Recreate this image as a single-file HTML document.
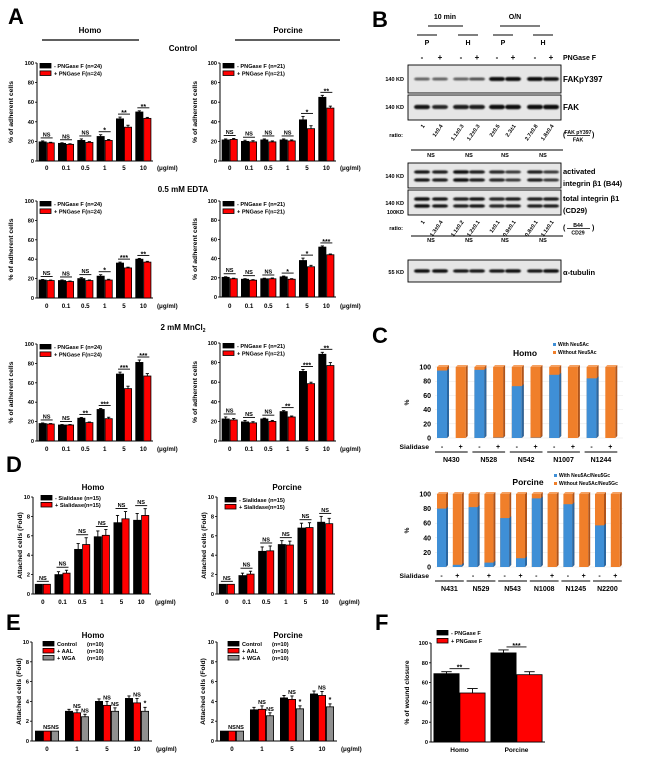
<!DOCTYPE html>
<html><head><meta charset="utf-8"><style>
html,body{margin:0;padding:0;background:#fff;}
svg{display:block;font-family:"Liberation Sans",Arial,sans-serif;font-weight:bold;}
</style></head><body>
<svg id="fig" width="650" height="758" viewBox="0 0 650 758" xmlns="http://www.w3.org/2000/svg">
<defs><filter id="blur" x="-20%" y="-100%" width="140%" height="300%"><feGaussianBlur stdDeviation="0.9"/></filter></defs>
<text x="183" y="330" font-size="8" text-anchor="middle">2 mM MnCl<tspan font-size="5" dy="2">2</tspan></text>
</svg>
<script>
// ===== Panel A data =====
const doseCats = ["0","0.1","0.5","1","5","10"];
const aCtrlHomoMinus = [19.5,18,21,25,43,50];
const aCtrlHomoPlus  = [18.5,17,19,21,34.5,43.5];
const aCtrlHomoErrM = [1,0.6,1.5,1.8,1.8,1.2];
const aCtrlHomoErrP = [0.6,0.6,0.8,1,2,1];
const aCtrlHomoSig = ["NS","NS","NS","*","**","**"];
const aCtrlPorMinus = [21.5,20,21.5,21.5,42,65];
const aCtrlPorPlus  = [22,19.5,19.5,20.5,33,54];
const aCtrlPorErrM = [1,1.2,1,1,3.5,2];
const aCtrlPorErrP = [1,1.2,1,1,3,2];
const aCtrlPorSig = ["NS","NS","NS","NS","*","**"];
const aEdtaHomoMinus = [18.5,18,20,22.5,36,40];
const aEdtaHomoPlus  = [18,17,18,18.5,31,37];
const aEdtaHomoErrM = [0.6,0.6,1,1.5,1,0.8];
const aEdtaHomoErrP = [0.5,0.5,0.6,0.8,0.8,0.8];
const aEdtaHomoSig = ["NS","NS","NS","*","***","**"];
const aEdtaPorMinus = [20.5,18.5,19,21,38,52];
const aEdtaPorPlus  = [19,17.5,19,18.5,31.5,44];
const aEdtaPorErrM = [0.6,0.6,0.6,0.8,2.5,1.2];
const aEdtaPorErrP = [0.6,0.6,0.8,0.6,1.5,0.8];
const aEdtaPorSig = ["NS","NS","NS","*","*","***"];
const aMnHomoMinus = [18,16.5,23.5,32.5,69,81];
const aMnHomoPlus  = [17.5,16.5,19,23,54,67];
const aMnHomoErrM = [0.6,0.5,0.8,1,2,2.5];
const aMnHomoErrP = [0.5,0.5,0.6,1.5,2.5,2.5];
const aMnHomoSig = ["NS","NS","**","***","***","***"];
const aMnPorMinus = [22.5,19.5,22.5,30,71,88.5];
const aMnPorPlus  = [21.5,18.5,20,24.5,58.5,77];
const aMnPorErrM = [2,1.5,0.8,1,2,2];
const aMnPorErrP = [1.5,1.2,1,1,1.5,3];
const aMnPorSig = ["NS","NS","NS","**","***","**"];
const aTicks = [0,20,40,60,80,100];
// ===== Panel D data =====
const dTicks = [0,2,4,6,8,10];
const dHomoMinus = [1,2,4.6,5.9,7.35,7.6];
const dHomoPlus  = [1,2.15,5.1,6.05,7.75,8.1];
const dHomoErrM = [0,0.3,0.6,0.6,0.75,0.7];
const dHomoErrP = [0,0.3,0.7,0.6,0.75,0.7];
const dPorMinus = [1,1.9,4.4,5.1,6.8,7.4];
const dPorPlus  = [1,2.05,4.45,5.05,6.85,7.25];
const dPorErrM = [0,0.25,0.45,0.4,0.5,0.6];
const dPorErrP = [0,0.3,0.5,0.4,0.5,0.55];
const dSig = ["NS","NS","NS","NS","NS","NS"];
// ===== Panel E data =====
const eCats = ["0","1","5","10"];
const eHomoCtrl = [1,3,4,4.3];
const eHomoAal  = [1,2.85,3.6,3.85];
const eHomoWga  = [1,2.45,3,3];
const eHomoErrC = [0,0.2,0.25,0.25];
const eHomoErrA = [0,0.3,0.4,0.45];
const eHomoErrW = [0,0.25,0.35,0.4];
const eHomoSigA = ["NS","NS","NS","NS"];
const eHomoSigW = ["NS","NS","NS","*"];
const ePorCtrl = [1,3.15,4.35,4.75];
const ePorAal  = [1,3.2,4.2,4.6];
const ePorWga  = [1,2.55,3.25,3.45];
const ePorErrC = [0,0.25,0.25,0.3];
const ePorErrA = [0,0.35,0.35,0.4];
const ePorErrW = [0,0.3,0.3,0.3];
const ePorSigA = ["NS","NS","NS","NS"];
const ePorSigW = ["NS","NS","*","*"];
// ===== Panel F data =====
const fCats = ["Homo","Porcine"];
const fTicks = [0,20,40,60,80,100];
const fMinus = [69,90];
const fPlus  = [49.5,68];
const fErrM = [2,3];
const fErrP = [4.5,3];
const fSig = ["**","***"];
// ===== Panel C data =====
const cHomoCats = ["N430","N528","N542","N1007","N1244"];
const cHomoWith = [95,0,96,0.5,73,0.5,89,0,84,0];
const cPorCats = ["N431","N529","N543","N1008","N1245","N2200"];
const cPorWith = [80,3,82,6,67,12,94,0,86,0,57,0];
const cTicks = [0,20,40,60,80,100];
// ===== Panel B data =====
const bLanes = ["-","+","-","+","-","+","-","+"];
const bRatio1 = ["1","1±0.4","1.1±0.3","1.2±0.3","2±0.5","2.3±1","2.7±0.8","1.8±0.4"];
const bRatio2 = ["1","1.3±0.4","1.1±0.2","1.2±0.1","1±0.1","0.9±0.1","0.8±0.1","1.1±0.1"];
const bPFak = [0.45,0.45,0.45,0.55,1,1,1,0.9];
const bFak = [0.9,0.8,0.85,0.85,0.95,0.95,1,1];
const bB44 = [0.9,0.85,1,0.85,0.8,0.7,0.85,0.7];
const bCd29 = [1,0.9,0.85,0.9,0.8,0.85,0.85,0.85];
const bTub = [0.95,0.95,0.9,0.9,0.9,0.95,0.9,1];

const NS='http://www.w3.org/2000/svg';
const svg=document.getElementById('fig');
function mk(tag, attrs, parent, text){
  const e=document.createElementNS(NS,tag);
  for(const k in attrs) e.setAttribute(k,attrs[k]);
  if(text!=null) e.textContent=text;
  (parent||svg).appendChild(e);
  return e;
}
function txt(x,y,s,size,anchor,name,parent,extra){
  const t=mk('text',Object.assign({x:x,y:y,'font-size':size,'text-anchor':anchor||'middle'},extra||{}),parent,s);
  
  
  return t;
}
function line(x1,y1,x2,y2,w,name,parent,col){
  const l=mk('line',{x1:x1,y1:y1,x2:x2,y2:y2,stroke:col||'#000','stroke-width':w},parent);
  
  
  return l;
}

function barChart(p){
  const g=mk('g',{});
  
  
  const n=p.cats.length, ns=p.series.length, gw=(p.x1-p.x0)/n;
  const y=v=>p.yB - v/p.max*(p.yB-p.yT);
  const xc=i=>p.x0+gw*(i+0.5);
  p.ticks.forEach(t=>{
    line(p.x0-2,y(t),p.x0,y(t),0.8,'y-tick',g);
    txt(p.x0-3,y(t)+2,String(t),5.6,'end','y-tick-label',g);
  });
  line(p.x0,p.yT,p.x0,p.yB+0.5,1,'y-axis',g);
  line(p.x0,p.yB,p.x1,p.yB,1,'x-axis',g);
  p.cats.forEach((c,i)=>txt(xc(i),p.labelY,c,p.catSize||6.2,'middle','x-tick-label',g));
  if(p.unit) txt(p.x1+4,p.labelY,'(μg/ml)',6.2,'start','unit-label',g);
  txt(0,0,p.ytitle,p.ytSize||6.8,'middle','y-axis-title',g,{transform:'translate('+p.ytX+','+((p.yT+p.yB)/2)+') rotate(-90)'});
  p.cats.forEach((c,i)=>{
    let top=p.yB;
    p.series.forEach((s,k)=>{
      const bx=xc(i)-ns*p.bw/2+k*p.bw;
      const v=s.vals[i], e=s.errs[i];
      if(e>0){
        line(bx+p.bw/2,y(v),bx+p.bw/2,y(v+e),0.9,'error-bar',g);
        line(bx+p.bw/2-p.bw*0.2,y(v+e),bx+p.bw/2+p.bw*0.2,y(v+e),0.9,'error-cap',g);
      }
      const r=mk('rect',{x:bx+0.4,y:y(v),width:p.bw-0.8,height:p.yB-y(v),fill:s.color,stroke:'#000','stroke-width':0.8},g);
      
      
      top=Math.min(top,y(v+e));
      if(s.sig){ txt(bx+p.bw/2,y(v+e)-2,s.sig[i],s.sig[i]==='*'?7:5.6,'middle','significance-label',g); }
    });
    if(p.sig){
      const ly=top-3, hw=p.sigW||7;
      line(xc(i)-hw,ly,xc(i)+hw,ly,0.9,'significance-line',g);
      const s=p.sig[i];
      txt(xc(i),ly-1.5,s,s==='NS'?5.6:7,'middle','significance-label',g,s==='NS'?{}:{dy:'2.5'});
    }
  });
  if(p.legend){
    p.legend.forEach((L,k)=>{
      const ly=p.legY+k*p.legDy;
      const r=mk('rect',{x:p.legX,y:ly-2.6,width:11,height:4.6,fill:L.color,stroke:'#000','stroke-width':0.8},g);
      
      
      txt(p.legX+14,ly+1.8,L.label,5.6,'start','legend-entry',g);
      if(L.n) txt(p.legX+p.nOff,ly+1.8,L.n,5.6,'start','legend-n',g);
    });
  }
}

// ---------- Panel A ----------
txt(8,24,'A',22,'start','panel-a-label');
txt(90,33,'Homo',8,'middle','homo-header');
line(42,40,139,40,1.2,'homo-header-line');
txt(288,33,'Porcine',8,'middle','porcine-header');
line(235,40,340,40,1.2,'porcine-header-line');
txt(183,51,'Control',8,'middle','control-title');
txt(183,192,'0.5 mM EDTA',8,'middle','edta-title');
const blk='#000', red='#f00', gray='#909090';
const homoLeg=[{label:'- PNGase F (n=24)',color:blk},{label:'+ PNGase F(n=24)',color:red}];
const porLeg=[{label:'- PNGase F (n=21)',color:blk},{label:'+ PNGase F(n=21)',color:red}];
function aChart(name,x0,yT,yB,labelY,m,pl,em,ep,sig,leg,unit,ytX){
  barChart({name:name,x0:x0,x1:x0+116,yT:yT,yB:yB,max:100,ticks:aTicks,cats:doseCats,bw:8,labelY:labelY,unit:unit,
    ytitle:'% of adherent cells',ytX:ytX,sig:sig,sigW:6,
    series:[{vals:m,errs:em,color:blk},{vals:pl,errs:ep,color:red}],legend:leg,legX:x0+3,legY:66+(yT-63),legDy:7.5});
}
aChart('chart-a-control-homo',37,63,161,170,aCtrlHomoMinus,aCtrlHomoPlus,aCtrlHomoErrM,aCtrlHomoErrP,aCtrlHomoSig,homoLeg,true,13);
aChart('chart-a-control-porcine',220,63,161,170,aCtrlPorMinus,aCtrlPorPlus,aCtrlPorErrM,aCtrlPorErrP,aCtrlPorSig,porLeg,true,197);
aChart('chart-a-edta-homo',37,201,298,308,aEdtaHomoMinus,aEdtaHomoPlus,aEdtaHomoErrM,aEdtaHomoErrP,aEdtaHomoSig,homoLeg,true,13);
aChart('chart-a-edta-porcine',220,201,297,308,aEdtaPorMinus,aEdtaPorPlus,aEdtaPorErrM,aEdtaPorErrP,aEdtaPorSig,porLeg,true,197);
aChart('chart-a-mncl2-homo',37,344,441,451,aMnHomoMinus,aMnHomoPlus,aMnHomoErrM,aMnHomoErrP,aMnHomoSig,homoLeg,true,13);
aChart('chart-a-mncl2-porcine',220,343,441,451,aMnPorMinus,aMnPorPlus,aMnPorErrM,aMnPorErrP,aMnPorSig,porLeg,true,197);

// ---------- Panel D ----------
txt(6,472,'D',22,'start','panel-d-label');
txt(93,490,'Homo',8,'middle','d-homo-title');
txt(287,490,'Porcine',8,'middle','d-porcine-title');
function dChart(name,x0,m,pl,em,ep,leg,ytX){
  barChart({name:name,x0:x0,x1:x0+118,yT:497,yB:594,max:10,ticks:dTicks,cats:doseCats,bw:8,labelY:604,unit:true,
    ytitle:'Attached cells (Fold)',ytX:ytX,sig:dSig,sigW:6,
    series:[{vals:m,errs:em,color:blk},{vals:pl,errs:ep,color:red}],legend:leg,legX:x0+8,legY:x0<100?498:500,legDy:7});
}
dChart('chart-d-homo',33,dHomoMinus,dHomoPlus,dHomoErrM,dHomoErrP,[{label:'- Sialidase (n=15)',color:blk},{label:'+ Sialidase(n=15)',color:red}],22);
dChart('chart-d-porcine',217,dPorMinus,dPorPlus,dPorErrM,dPorErrP,[{label:'- Sialidase (n=15)',color:blk},{label:'+ Sialidase(n=15)',color:red}],206);

// ---------- Panel E ----------
txt(6,630,'E',22,'start','panel-e-label');
txt(93,638,'Homo',8,'middle','e-homo-title');
txt(288,638,'Porcine',8,'middle','e-porcine-title');
function eChart(name,x0,c,a,w,ec,ea,ew,sa,sw,ytX){
  barChart({name:name,x0:x0,x1:x0+120,yT:642,yB:741,max:10,ticks:dTicks,cats:eCats,bw:8,labelY:751,unit:true,
    ytitle:'Attached cells (Fold)',ytX:ytX,
    series:[{vals:c,errs:ec,color:blk},{vals:a,errs:ea,color:red,sig:sa},{vals:w,errs:ew,color:gray,sig:sw}],
    legend:[{label:'Control',n:'(n=10)',color:blk},{label:'+ AAL',n:'(n=10)',color:red},{label:'+ WGA',n:'(n=10)',color:gray}],
    nOff:44,legX:x0+11,legY:644,legDy:7});
}
eChart('chart-e-homo',32,eHomoCtrl,eHomoAal,eHomoWga,eHomoErrC,eHomoErrA,eHomoErrW,eHomoSigA,eHomoSigW,21);
eChart('chart-e-porcine',217,ePorCtrl,ePorAal,ePorWga,ePorErrC,ePorErrA,ePorErrW,ePorSigA,ePorSigW,205);

// ---------- Panel F ----------
txt(375,630,'F',22,'start','panel-f-label');
barChart({name:'chart-f-wound',x0:431,x1:545,yT:643,yB:742,max:100,ticks:fTicks,cats:fCats,bw:26,labelY:752,catSize:6.5,
  ytitle:'% of wound closure',ytX:409,sig:fSig,sigW:10,
  series:[{vals:fMinus,errs:fErrM,color:blk},{vals:fPlus,errs:fErrP,color:red}],
  legend:[{label:'- PNGase F',color:blk},{label:'+ PNGase F',color:red}],legX:437,legY:633,legDy:8});

// ---------- Panel C ----------
txt(372,343,'C',22,'start','panel-c-label');
function cChart(name,yT,yB,x0,x1,first,step,bw,withVals,cats,title,titleX,titleY,legLabels,legX,legY,sialY,grpY){
  const g=mk('g',{});
  
  
  const y=v=>yB-v/100*(yB-yT);
  cTicks.forEach(t=>{
    line(x0,y(t),x1,y(t),0.5,'gridline',g,'#e4e4e4');
    txt(x0-4,y(t)+2.5,String(t),7,'end','y-tick-label',g);
  });
  txt(0,0,'%',6.5,'middle','y-axis-title',g,{transform:'translate('+(x0-26)+','+((yT+yB)/2)+') rotate(-90)'});
  withVals.forEach((w,i)=>{
    const bx=first+i*step;
    const side=mk('polygon',{points:[bx+bw,y(100),bx+bw+2,y(100)-2,bx+bw+2,yB-2,bx+bw,yB].join(' '),fill:'#b0541a'},g);
    
    
    const topf=mk('polygon',{points:[bx,y(100),bx+2,y(100)-2,bx+bw+2,y(100)-2,bx+bw,y(100)].join(' '),fill:'#f5a060'},g);
    
    
    const o=mk('rect',{x:bx,y:y(100),width:bw,height:yB-y(100),fill:'#f07f2a'},g);
    
    
    if(w>0){
      const b=mk('rect',{x:bx,y:y(w),width:bw,height:yB-y(w),fill:'#3f8fd6'},g);
      
      
      const bs=mk('polygon',{points:[bx+bw,y(w),bx+bw+2,y(w)-2,bx+bw+2,yB-2,bx+bw,yB].join(' '),fill:'#2a66a0'},g);
      
      
    }
    txt(bx+bw/2,sialY,i%2?'+':'-',7,'middle','sialidase-sign',g);
  });
  txt(first-8,sialY,'Sialidase',6.8,'end','sialidase-label',g);
  cats.forEach((c,k)=>{
    const a=first+2*k*step, b=first+(2*k+1)*step+bw;
    line(a-2,sialY+3,b+2,sialY+3,1,'group-line',g);
    txt((a+b)/2,grpY,c,7,'middle','group-label',g);
  });
  txt(titleX,titleY,title,8.5,'middle','c-title',g);
  legLabels.forEach((L,k)=>{
    const r=mk('rect',{x:legX,y:legY+k*8-3,width:3,height:3,fill:k?'#f07f2a':'#3f8fd6'},g);
    
    
    txt(legX+5,legY+k*8,L,5,'start','legend-entry',g);
  });
}
cChart('chart-c-homo',367,438,435,623,437,18.7,10,cHomoWith,cHomoCats,'Homo',525,356,['With Neu5Ac','Without Neu5Ac'],553,346,449,462);
cChart('chart-c-porcine',494,567,435,623,437,15.8,9,cPorWith,cPorCats,'Porcine',528,485,['With Neu5Ac/Neu5Gc','Without Neu5Ac/Neu5Gc'],554,477,578,591);

// ---------- Panel B ----------
txt(372,27,'B',22,'start','panel-b-label');
const laneX=[422,440,461,477,497,513,535,551];
txt(445,19,'10 min',7,'middle','b-10min-label');
line(428,26,463,26,1,'b-10min-line');
txt(515,19,'O/N',7,'middle','b-on-label');
line(500,26,540,26,1,'b-on-line');
[[427,'P'],[468,'H'],[503,'P'],[543,'H']].forEach(a=>{
  line(a[0]-10,35,a[0]+10,35,1,'b-group-line');
  txt(a[0],45,a[1],7,'middle','b-group-label');
});
bLanes.forEach((s,i)=>txt(laneX[i],60,s,8,'middle','b-lane-sign'));
txt(563,60,'PNGase F',7,'start','pngase-label');
function blot(name,yT,yB,rows){
  const g=mk('g',{});
  
  
  const r=mk('rect',{x:408,y:yT,width:153,height:yB-yT,fill:'#e6e6e6',stroke:'#000','stroke-width':0.9},g);
  
  
  rows.forEach(row=>{
    row.vals.forEach((v,i)=>{
      const h=row.h*(0.5+0.5*v);
      const b=mk('rect',{x:laneX[i]-8,y:row.y-h/2,width:16,height:h,rx:3,fill:'#111','fill-opacity':Math.min(1,0.25+0.8*v),filter:'url(#blur)'},g);
      
      
    });
  });
}
blot('blot-fakpy397',65,93,[{y:79,h:4,vals:bPFak}]);
blot('blot-fak',95,120,[{y:107,h:4.5,vals:bFak}]);
blot('blot-b44',163,188,[{y:172,h:3.5,vals:bB44},{y:180,h:3.5,vals:bB44}]);
blot('blot-cd29',190,215,[{y:199,h:3.5,vals:bCd29},{y:206,h:3.5,vals:bCd29}]);
blot('blot-tubulin',260,282,[{y:271,h:3.5,vals:bTub}]);
[[79,'140 KD'],[107,'140 KD'],[176,'140 KD'],[203,'140 KD'],[212,'100KD'],[272,'55 KD']].forEach(a=>{
  txt(404,a[0]+2,a[1],5.5,'end','mw-marker');
});
txt(563,82,'FAKpY397',8,'start','fakpy397-label');
txt(563,110,'FAK',8,'start','fak-label');
txt(563,174,'activated',7.5,'start','b44-label-1');
txt(563,186,'integrin β1 (B44)',7.5,'start','b44-label-2');
txt(563,201,'total integrin β1',7.5,'start','cd29-label-1');
txt(563,213,'(CD29)',7.5,'start','cd29-label-2');
txt(563,275,'α-tubulin',7.5,'start','tubulin-label');
function ratioRow(vals,ay,ry,ly,nsy,top,bot){
  txt(403,ry,'ratio:',5.5,'end','ratio-label');
  vals.forEach((v,i)=>txt(laneX[i]+3,ay,v,5.5,'end','ratio-value',svg,{transform:'rotate(-55 '+(laneX[i]+3)+' '+ay+')'}));
  for(let k=0;k<4;k++){
    const c=(laneX[2*k]+laneX[2*k+1])/2;
    line(c-20,ly,c+20,ly,1,'ns-line');
    txt(c,nsy,'NS',5.5,'middle','ns-label');
  }
  txt(563,ry,'(',7,'start','ratio-paren');
  txt(578,ry-3,top,5.2,'middle','ratio-numerator');
  line(567,ry-1.5,590,ry-1.5,0.7,'ratio-fraction-line');
  txt(578,ry+4.5,bot,5.2,'middle','ratio-denominator');
  txt(592,ry,')',7,'start','ratio-paren');
}
ratioRow(bRatio1,126,137,150,157,'FAK pY397','FAK');
ratioRow(bRatio2,222,230,236,242,'B44','CD29');
</script>
</body></html>
